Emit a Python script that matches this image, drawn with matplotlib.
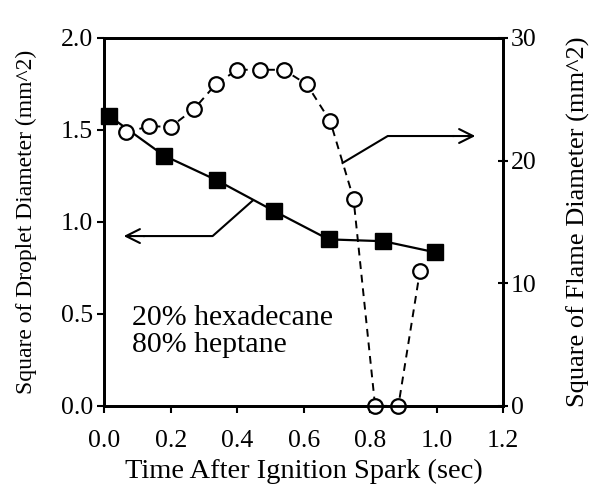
import numpy as np
import matplotlib.pyplot as plt

plt.rcParams['font.family'] = ['Liberation Serif', 'DejaVu Serif']

# droplet (left axis, filled squares)
drop_t = [0.015, 0.18, 0.34, 0.51, 0.675, 0.84, 0.995]
drop_d2 = [1.575, 1.36, 1.225, 1.06, 0.905, 0.895, 0.835]

# flame (right axis, open circles)
flame_t = [0.066, 0.136, 0.20, 0.27, 0.335, 0.40, 0.47, 0.54, 0.61, 0.68,
           0.75, 0.815, 0.885, 0.95]
flame_d2 = [22.3, 22.8, 22.75, 24.2, 26.2, 27.4, 27.4, 27.4, 26.2, 23.2,
            16.9, 0.0, 0.0, 11.0]

x_ticks = [0.0, 0.2, 0.4, 0.6, 0.8, 1.0, 1.2]
left_ticks = [0.0, 0.5, 1.0, 1.5, 2.0]
right_ticks = [0, 10, 20, 30]

fig = plt.figure(figsize=(5.96, 4.92), dpi=100)
ax = fig.add_axes([0.175, 0.175, 0.669, 0.748])
ax2 = ax.twinx()

ax.plot(drop_t, drop_d2, '-', color='black', lw=1.6, marker='s', ms=11,
        mfc='black', mec='black', zorder=3, clip_on=False)
ax2.plot(flame_t, flame_d2, '--', color='black', lw=1.4, dashes=(4, 3),
         marker='o', ms=10.5, mfc='white', mec='black', mew=1.6, clip_on=False)

ax.set_xlim(0, 1.2)
ax.set_ylim(0, 2.0)
ax2.set_ylim(0, 30)
ax.set_xticks(x_ticks)
ax.set_xticklabels([f"{v:.1f}" for v in x_ticks])
ax.set_yticks(left_ticks)
ax.set_yticklabels([f"{v:.1f}" for v in left_ticks])
ax2.set_yticks(right_ticks)

fs = 18.5
ax.tick_params(axis='y', labelsize=fs, direction='out', length=5, width=1.5, pad=3)
ax.tick_params(axis='x', labelsize=fs, direction='out', length=5, width=1.5, pad=12)
ax2.tick_params(axis='y', labelsize=fs, direction='inout', length=7, width=1.5, pad=2)
for a in (ax, ax2):
    for s in a.spines.values():
        s.set_linewidth(2)

ax.set_xlabel("Time After Ignition Spark (sec)", fontsize=20.5, labelpad=5)
ax.set_ylabel("Square of Droplet Diameter (mm^2)", fontsize=17, labelpad=17)
ax2.set_ylabel("Square of Flame Diameter (mm^2)", fontsize=19, labelpad=22)

ax.text(0.084, 0.55, "20% hexadecane\n80% heptane", fontsize=21.5,
        va='top', ha='left', linespacing=1.05)

# arrow pointing to left axis
ax.plot([0.446, 0.326, 0.12], [1.115, 0.923, 0.923], color='black', lw=1.5)
ax.annotate("", xy=(0.05, 0.923), xytext=(0.13, 0.923),
            arrowprops=dict(arrowstyle='->', color='black', lw=1.5,
                            mutation_scale=25))
# arrow pointing to right axis
ax2.plot([0.717, 0.853, 1.05], [19.8, 22.0, 22.0], color='black', lw=1.5)
ax2.annotate("", xy=(1.125, 22.0), xytext=(1.04, 22.0),
             arrowprops=dict(arrowstyle='->', color='black', lw=1.5,
                             mutation_scale=25))

fig.savefig("out.png", dpi=100)
